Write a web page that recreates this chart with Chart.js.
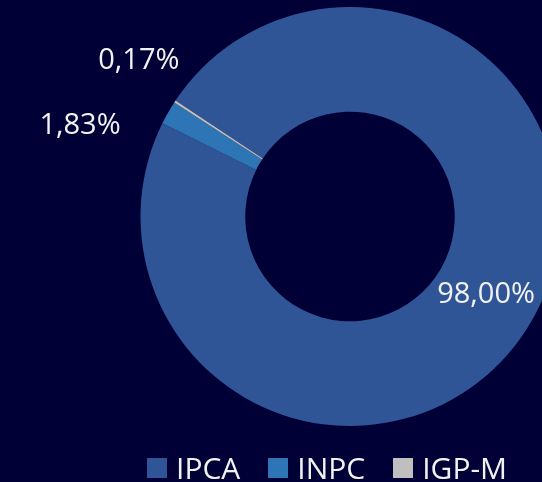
<!DOCTYPE html>
<html>
<head>
<meta charset="utf-8">
<script src="https://cdn.jsdelivr.net/npm/chart.js@4"></script>
<style>
  html, body { margin: 0; padding: 0; background: #000036; overflow: hidden; }
  body { width: 542px; height: 482px; position: relative; font-family: "Open Sans", sans-serif; }
  #chartIndices { position: absolute; left: 0; top: 0; }
  #legenda { position: absolute; left: 147px; top: 447px; display: flex; align-items: center; color: #f2f2f2; font-size: 30px; }
  #legenda span.item { display: flex; align-items: center; margin-right: 28px; }
  #legenda span.caixa { width: 20px; height: 20px; margin-right: 9px; display: inline-block; }
</style>
</head>
<body>
<canvas id="chartIndices" width="700" height="482"></canvas>
<div id="legenda"></div>
<script>
// Participação por índice
const indices = ["IPCA", "INPC", "IGP-M"];
const participacao = [98.00, 1.83, 0.17];
const cores = ["#2F5597", "#2E75B6", "#BFBFBF"];

// deslocamento dos rótulos (px) a partir da borda externa da fatia
const ajusteRotulo = [null, [-88, 13], [-36, -41]];

const rotulos = {
  id: "rotulos",
  afterDatasetsDraw(chart) {
    const ctx = chart.ctx;
    const meta = chart.getDatasetMeta(0);
    ctx.save();
    ctx.font = "29px 'Open Sans', sans-serif";
    ctx.fillStyle = "#f2f2f2";
    ctx.textAlign = "center";
    ctx.textBaseline = "middle";
    meta.data.forEach((arc, i) => {
      const texto = participacao[i].toFixed(2).replace(".", ",") + "%";
      const p = arc.getProps(["x", "y", "startAngle", "endAngle", "innerRadius", "outerRadius"], true);
      const meio = (p.startAngle + p.endAngle) / 2;
      let x, y;
      if (ajusteRotulo[i]) {
        x = p.x + Math.cos(meio) * p.outerRadius + ajusteRotulo[i][0];
        y = p.y + Math.sin(meio) * p.outerRadius + ajusteRotulo[i][1];
      } else {
        const r = (p.innerRadius + p.outerRadius) / 2;
        x = p.x + Math.cos(meio) * r;
        y = p.y + Math.sin(meio) * r;
      }
      ctx.fillText(texto, x, y);
    });
    ctx.restore();
  }
};

new Chart(document.getElementById("chartIndices"), {
  type: "doughnut",
  data: {
    labels: indices,
    datasets: [{
      data: participacao,
      backgroundColor: cores,
      borderWidth: 0
    }]
  },
  options: {
    responsive: false,
    animation: false,
    rotation: -56.4,
    cutout: "50%",
    layout: { padding: { top: 7, bottom: 56, left: 0, right: 0 } },
    plugins: {
      legend: { display: false },
      tooltip: { enabled: false }
    }
  },
  plugins: [rotulos]
});

// Legenda
const legendaEl = document.getElementById("legenda");
legendaEl.innerHTML = indices.map((nome, i) =>
  `<span class="item"><span class="caixa" style="background:${cores[i]}"></span>${nome}</span>`
).join("");
</script>
</body>
</html>
